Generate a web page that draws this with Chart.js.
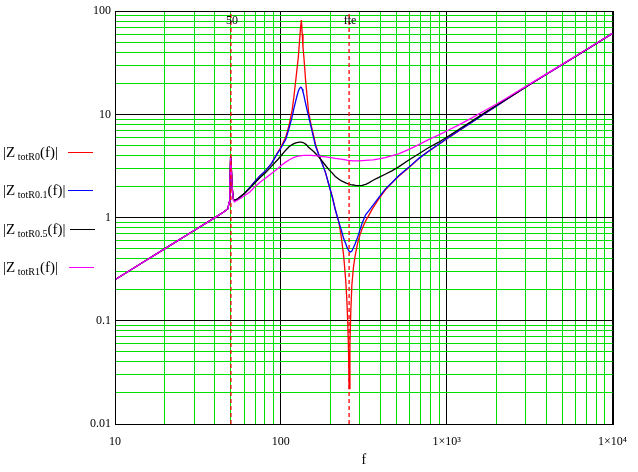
<!DOCTYPE html>
<html>
<head>
<meta charset="utf-8">
<script src="https://cdn.jsdelivr.net/npm/chart.js@4.4.1/dist/chart.umd.min.js"></script>
<style>
  html, body { margin: 0; padding: 0; background: #fff; }
  #wrap { position: relative; width: 638px; height: 472px; }
  canvas { position: absolute; left: 0; top: 0; }
  .leg { position: absolute; left: 3px; font-family: "Liberation Serif", "DejaVu Serif", serif; font-size: 15px; color: #000; white-space: nowrap; line-height: 18px; }
  .leg sub { font-size: 10px; vertical-align: -3px; }
  .leg .ln { position: absolute; top: 9px; width: 25px; height: 1px; }
</style>
</head>
<body>
<div id="wrap">
  <canvas id="c" width="638" height="472"></canvas>
</div>
<script>
// ---- data ----
const freq = [10, 15, 20, 30, 40, 45, 48, 48.7, 49.3, 49.8, 50.3, 51, 51.7, 52.5, 55, 60, 65, 70, 75, 81, 88, 95, 100, 107, 112, 117, 120, 123, 125, 127.5, 129.5, 131.5, 133, 134.6, 136, 137.7, 141, 144, 147, 152, 157, 162, 170, 178, 186, 195, 205, 213, 224, 232, 239, 246, 250, 253, 256, 258, 261, 264, 268, 274, 281, 290, 300, 309, 325, 339, 360, 390, 426, 470, 513, 588, 680, 776, 890, 1000, 1200, 1412, 1700, 2000, 2330, 3000, 4000, 5000, 7000, 10000];

const zR0 = [0.25, 0.375, 0.5, 0.75, 1.0, 1.125, 1.22, 1.4, 2.2, 3.9, 3.0, 1.9, 1.52, 1.46,
  1.52, 1.7, 1.96, 2.25, 2.55, 2.85, 3.35, 4.2, 4.8, 6.0, 7.8, 11, 15, 21.4, 27, 36, 50, 70, 82, 60, 45, 36, 21.4, 14.9, 10.5, 8, 6.4, 5.1, 4.0, 3.3, 2.73, 2.07, 1.55, 1.2, 0.9, 0.63, 0.434, 0.25, 0.16, 0.1, 0.05, 0.022, 0.06, 0.12, 0.22, 0.33, 0.434, 0.56, 0.68, 0.78, 0.93, 1.05, 1.25, 1.52, 1.85, 2.18, 2.52, 3.03, 3.73, 4.38, 5.08, 5.78, 7.03, 8.35, 10.2, 12.1, 14.2, 18.4, 24.5, 30.5, 42.6, 61];

const zR01 = [0.25, 0.375, 0.5, 0.75, 1.0, 1.125, 1.22, 1.4, 2.2, 3.9, 3.0, 1.9, 1.52, 1.46,
  1.52, 1.7, 1.96, 2.25, 2.55, 2.85, 3.35, 4.15, 4.7, 5.7, 7.3, 9.5, 11.5, 13.5, 15, 16.8, 17.8, 18.3, 18.2, 17.5, 16.5, 15.3, 12.8, 11, 9.55, 7.6, 6.1, 4.92, 4.0, 3.3, 2.73, 2.07, 1.55, 1.19, 0.9, 0.75, 0.63, 0.56, 0.52, 0.5, 0.48, 0.475, 0.468, 0.467, 0.475, 0.51, 0.56, 0.64, 0.76, 0.88, 1.07, 1.16, 1.32, 1.57, 1.89, 2.2, 2.54, 3.05, 3.75, 4.4, 5.1, 5.8, 7.05, 8.37, 10.2, 12.1, 14.2, 18.4, 24.5, 30.5, 42.6, 61];

const zR05 = [0.25, 0.375, 0.5, 0.75, 1.0, 1.125, 1.22, 1.4, 2.2, 3.9, 3.0, 1.9, 1.52, 1.46,
  1.52, 1.7, 1.92, 2.18, 2.45, 2.73, 3.15, 3.6, 3.95, 4.5, 4.85, 5.1, 5.2, 5.3, 5.33, 5.36, 5.38, 5.39, 5.38, 5.36, 5.33, 5.28, 5.15, 5.0, 4.8, 4.6, 4.4, 4.18, 3.85, 3.5, 3.2, 2.92, 2.68, 2.5, 2.35, 2.27, 2.22, 2.17, 2.15, 2.13, 2.12, 2.11, 2.1, 2.09, 2.08, 2.07, 2.05, 2.04, 2.04, 2.05, 2.1, 2.17, 2.3, 2.45, 2.63, 2.85, 3.1, 3.6, 4.15, 4.75, 5.35, 6.0, 7.25, 8.55, 10.4, 12.25, 14.3, 18.5, 24.6, 30.6, 42.7, 61];

const zR1 = [0.25, 0.375, 0.5, 0.75, 1.0, 1.125, 1.22, 1.4, 2.2, 3.8, 2.9, 1.85, 1.48, 1.42,
  1.48, 1.62, 1.77, 2.0, 2.2, 2.42, 2.68, 2.95, 3.18, 3.45, 3.62, 3.76, 3.83, 3.88, 3.91, 3.94, 3.96, 3.97, 3.98, 3.99, 3.99, 4.0, 4.0, 4.0, 4.0, 4.0, 3.99, 3.98, 3.95, 3.91, 3.87, 3.83, 3.79, 3.75, 3.71, 3.68, 3.65, 3.62, 3.6, 3.59, 3.58, 3.57, 3.57, 3.56, 3.56, 3.55, 3.55, 3.55, 3.55, 3.56, 3.58, 3.6, 3.63, 3.7, 3.82, 3.98, 4.15, 4.55, 5.1, 5.7, 6.3, 6.9, 8.0, 9.2, 10.9, 12.6, 14.6, 18.7, 24.7, 30.7, 42.8, 61];

const seriesNames = ['totR0', 'totR0.1', 'totR0.5', 'totR1'];
const markerX = [50, 258];
const markerLabels = ['50', 'fte'];

const xMajor = [10, 100, 1000, 10000];
const xTickLabels = ['10', '100', '1\u00d710\u00b3', '1\u00d710\u2074'];
const yMajor = [0.01, 0.1, 1, 10, 100];
const yTickLabels = ['0.01', '0.1', '1', '10', '100'];
const minorSteps = [2, 3, 4, 5, 6, 7, 8, 9];

// ---- build grid tick values ----
function gridValues(majors) {
  const out = [];
  majors.forEach((m, i) => {
    out.push(m);
    if (i < majors.length - 1) minorSteps.forEach(s => out.push(+(m * s).toPrecision(6)));
  });
  return out;
}
const xGrid = gridValues(xMajor);
const yGrid = gridValues(yMajor);

function isMajor(v, majors) {
  return majors.some(m => Math.abs(Math.log10(v) - Math.log10(m)) < 1e-6);
}
function labelFor(v, majors, labels) {
  for (let i = 0; i < majors.length; i++) {
    if (Math.abs(Math.log10(v) - Math.log10(majors[i])) < 1e-6) return labels[i];
  }
  return '';
}

const colors = ['#ff0000', '#0000ff', '#000000', '#ff00ff'];
const values = [zR0, zR01, zR05, zR1];
const drawOrder = [3, 2, 1, 0];

const datasets = values.map((arr, k) => ({
  label: seriesNames[k],
  data: freq.map((f, i) => ({ x: f, y: arr[i] })),
  borderColor: colors[k],
  borderWidth: 1.3,
  pointRadius: 0,
  tension: 0,
  fill: false,
  order: drawOrder[k]
}));
markerX.forEach((mx) => {
  datasets.push({
    label: 'marker',
    data: [{ x: mx, y: yMajor[0] }, { x: mx, y: yMajor[yMajor.length - 1] }],
    borderColor: '#ff0000',
    borderWidth: 1.3,
    borderDash: [4, 3],
    pointRadius: 0,
    fill: false,
    order: -1
  });
});

const GREEN = '#00e000';
const framePlugin = {
  id: 'frameAndMarkers',
  afterDatasetsDraw(chart) {
    const { ctx, chartArea: a } = chart;
    ctx.save();
    ctx.strokeStyle = '#000';
    ctx.lineWidth = 1;
    ctx.strokeRect(Math.round(a.left) + 0.5, Math.round(a.top) + 0.5, Math.round(a.right - a.left), Math.round(a.bottom - a.top));
    ctx.fillStyle = '#000';
    ctx.font = '12px "Liberation Serif"';
    ctx.textAlign = 'center';
    ctx.textBaseline = 'middle';
    markerX.forEach((v, i) => {
      const px = chart.scales.x.getPixelForValue(v);
      ctx.fillText(markerLabels[i], px + 1, a.top + 10);
    });
    ctx.restore();
  }
};

const serif = { family: '"Liberation Serif", "DejaVu Serif", serif', size: 12 };

new Chart(document.getElementById('c'), {
  type: 'line',
  data: { datasets },
  options: {
    responsive: false,
    animation: false,
    events: [],
    layout: { padding: { left: 0, right: 23, top: 7, bottom: 0 } },
    plugins: { legend: { display: false }, tooltip: { enabled: false } },
    scales: {
      x: {
        type: 'logarithmic',
        min: 10, max: 10000,
        afterBuildTicks: (s) => { s.ticks = xGrid.map(v => ({ value: v })); },
        afterFit: (s) => { s.height = 48; },
        grid: {
          color: (c) => (c.tick && isMajor(c.tick.value, xMajor)) ? '#000' : GREEN,
          lineWidth: 1,
          drawTicks: false
        },
        border: { display: true, color: '#000' },
        ticks: {
          autoSkip: false, maxRotation: 0, padding: 11, color: '#000', font: serif,
          callback: (v) => labelFor(v, xMajor, xTickLabels)
        },
        title: { display: true, text: 'f', color: '#000', font: { family: serif.family, size: 14 }, padding: { top: 0, bottom: 3 } }
      },
      y: {
        type: 'logarithmic',
        min: 0.01, max: 100,
        afterBuildTicks: (s) => { s.ticks = yGrid.map(v => ({ value: v })); },
        afterFit: (s) => { s.width = 115; },
        grid: {
          color: (c) => (c.tick && isMajor(c.tick.value, yMajor)) ? '#000' : GREEN,
          lineWidth: 1,
          drawTicks: false
        },
        border: { display: true, color: '#000' },
        ticks: {
          autoSkip: false, padding: 4, color: '#000', font: serif,
          callback: (v) => labelFor(v, yMajor, yTickLabels)
        }
      }
    }
  },
  plugins: [framePlugin]
});

// ---- HTML legend ----
const legendTops = [143, 181, 220, 258];
const lineLeft = [65, 65, 67, 66];
const wrap = document.getElementById('wrap');
seriesNames.forEach((n, k) => {
  const d = document.createElement('div');
  d.className = 'leg';
  d.style.top = legendTops[k] + 'px';
  d.innerHTML = '|Z<sub> ' + n + '</sub>(f)|';
  const ln = document.createElement('div');
  ln.className = 'ln';
  ln.style.left = lineLeft[k] + 'px';
  ln.style.background = colors[k];
  d.appendChild(ln);
  wrap.appendChild(d);
});
</script>
</body>
</html>
